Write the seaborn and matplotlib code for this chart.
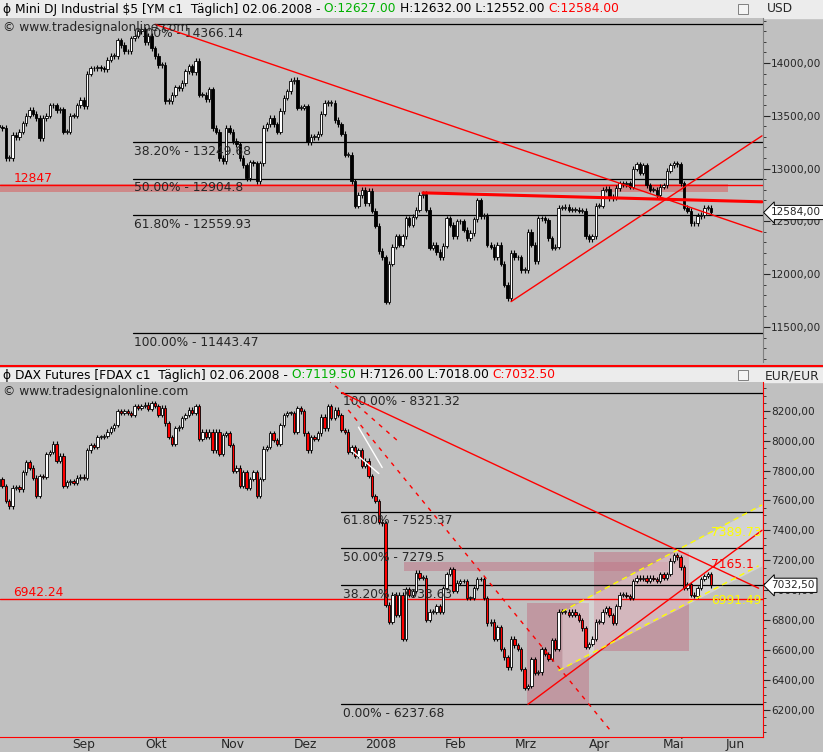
import numpy as np
import pandas as pd
import matplotlib
matplotlib.use("Agg")
import matplotlib.pyplot as plt
from matplotlib.patches import Rectangle
from matplotlib.ticker import MultipleLocator, FuncFormatter, FixedLocator
import seaborn as sns

sns.set_style("white")
plt.rcParams["font.family"] = ["DejaVu Sans"]

BG = "#c0c0c0"

# ---------------- data (closes) ----------------
ym_close = [
    13500, 13410, 13390, 13384, 13100, 13100, 13318, 13300, 13350, 13430,
    13500, 13555, 13520, 13480, 13290, 13480, 13500, 13600, 13600, 13550,
    13560, 13350, 13350, 13500, 13500, 13600, 13650, 13590, 13900, 13950,
    13950, 13960, 13950, 13940, 14030, 14065, 14065, 14215, 14170, 14110,
    14110, 14235, 14260, 14300, 14320, 14200, 14260, 14140, 14065, 13980,
    13980, 13640, 13640, 13700, 13770, 13760, 13810, 13920, 13970, 13910,
    14020, 13700, 13700, 13660, 13750, 13385, 13350, 13100, 13070, 13385,
    13350, 13260, 13230, 13100, 13030, 12910, 13060, 13050, 12880, 13050,
    13385, 13420, 13480, 13420, 13350, 13545, 13670, 13730, 13830, 13840,
    13575, 13575, 13590, 13250, 13300, 13300, 13330, 13520, 13620, 13620,
    13620, 13460, 13420, 13330, 13130, 13130, 12880, 12650, 12750, 12800,
    12670, 12790, 12600, 12460, 12220, 12160, 11740, 12100, 12260, 12360,
    12280, 12360, 12530, 12470, 12545, 12610, 12750, 12760, 12610, 12250,
    12280, 12210, 12160, 12270, 12530, 12470, 12360, 12500, 12500, 12420,
    12340, 12390, 12520, 12700, 12550, 12550, 12280, 12260, 12160, 12280,
    12100, 11900, 11770, 12200, 12160, 12160, 12040, 12040, 12400, 12280,
    12120, 12530, 12530, 12510, 12340, 12250, 12260, 12630, 12630, 12640,
    12610, 12610, 12610, 12600, 12600, 12360, 12330, 12360, 12650, 12650,
    12800, 12810, 12720, 12730, 12815, 12860, 12850, 12860, 12830, 13000,
    13040, 12960, 13030, 12840, 12800, 12800, 12750, 12830, 12840, 12980,
    13030, 13050, 13040, 12860, 12630, 12600, 12480, 12480, 12550, 12560,
    12630, 12630, 12584,
]

dax_close = [
    7855, 7697, 7742, 7697, 7595, 7560, 7685, 7690, 7674, 7787,
    7855, 7820, 7753, 7628, 7765, 7760, 7912, 7923, 7980, 7866,
    7900, 7697, 7720, 7730, 7715, 7753, 7760, 7750, 7935, 7969,
    7960, 8025, 8025, 8030, 8060, 8082, 8105, 8195, 8185, 8195,
    8185, 8173, 8230, 8220, 8230, 8240, 8210, 8252, 8230, 8173,
    8220, 8116, 8025, 7980, 8082, 8090, 8150, 8173, 8207, 8185,
    8230, 8014, 8060, 8025, 8060, 7935, 8060, 7912, 8037, 8048,
    7969, 7800, 7820, 7697, 7787, 7685, 7742, 7787, 7628, 7742,
    7946, 7957, 8048, 8003, 7980, 8105, 8173, 8185, 8185, 8060,
    8218, 8195, 8048, 7935, 8025, 8014, 8048, 8160, 8082, 8230,
    8150, 8207, 8173, 8070, 8060, 7923, 7957, 7900, 7935, 7833,
    7867, 7765, 7628, 7595, 7458, 7447, 6903, 6790, 6970, 6835,
    6970, 6676, 7005, 6970, 6993, 7118, 7084, 7084, 6800, 6857,
    6857, 6891, 6857, 7016, 7107, 7141, 6993, 7050, 7060, 7060,
    6948, 6948, 7016, 7073, 7073, 6948, 6778, 6790, 6676, 6755,
    6608, 6551, 6483, 6676, 6630, 6608, 6472, 6347, 6360, 6540,
    6449, 6450, 6608, 6574, 6540, 6665, 6608, 6857, 6857, 6857,
    6835, 6857, 6835, 6800, 6744, 6619, 6640, 6676, 6790, 6790,
    6857, 6880, 6835, 6780, 6891, 6970, 6970, 6960, 6948, 7061,
    7084, 7073, 7084, 7061, 7084, 7073, 7061, 7107, 7084, 7107,
    7198, 7232, 7220, 7152, 7016, 7040, 6970, 6960, 7016, 7073,
    7095, 7107, 7032.5,
]

ym_fib_levels = [14366.14, 13249.68, 12904.8, 12559.93, 11443.47]
ym_fib_labels = ["0.00% - 14366.14", "38.20% - 13249.68", "50.00% - 12904.8",
                 "61.80% - 12559.93", "100.00% - 11443.47"]
dax_fib_levels = [8321.32, 7525.37, 7279.5, 7033.63, 6237.68]
dax_fib_labels = ["100.00% - 8321.32", "61.80% - 7525.37", "50.00% - 7279.5",
                  "38.20% - 7033.63", "0.00% - 6237.68"]

# line anchors: bars back from the last candle, price
ym_down_back, ym_down_px = [164, -15], [14366, 12400]
ym_up_back, ym_up_px = [59, -15], [11740, 13310]
ym_res_back, ym_res_px = [85, -15], [12770, 12685]
dax_down_back, dax_down_px = [109, -14], [8321, 7013]
dax_dash_back, dax_dash_px = [107, 30], [8205, 6070]
dax_dash2_back, dax_dash2_px = [113, 92], [8409, 7990]
dax_up_back, dax_up_px = [54, -15], [6237, 7400]
dax_chan_hi_back, dax_chan_hi_px = [44, -15], [6857, 7570]
dax_chan_lo_back, dax_chan_lo_px = [45, -14], [6462, 7163]
dax_white1_back, dax_white1_px = [106, 98], [7935, 7780]
dax_white2_back, dax_white2_px = [104, 97], [8090, 7820]

months = ["Sep", "Okt", "Nov", "Dez", "2008", "Feb", "Mrz", "Apr", "Mai", "Jun"]


def ohlc(closes, pad):
    c = np.array(closes, dtype=float)
    o = np.concatenate([[c[0]], c[:-1]])
    hi = np.maximum(o, c) + pad
    lo = np.minimum(o, c) - pad
    return o, hi, lo, c


def draw_candles(ax, closes, pad, down_color, min_h):
    o, hi, lo, c = ohlc(closes, pad)
    n = len(c)
    x = np.arange(n) - (n - 1)
    ax.vlines(x, lo, hi, color="black", lw=0.8, zorder=3)
    up = c >= o
    body = np.maximum(np.abs(c - o), min_h)
    bottom = np.minimum(o, c)
    ax.bar(x[up], body[up], bottom=bottom[up], width=0.7, color="white",
           edgecolor="black", lw=0.6, zorder=4)
    ax.bar(x[~up], body[~up], bottom=bottom[~up], width=0.7, color=down_color,
           edgecolor="black", lw=0.6, zorder=4)


def seg(ax, back, px, **kw):
    ax.plot([-b for b in back], px, **kw)


FS = 8.8
TFS = 7.6
fig = plt.figure(figsize=(8.23, 7.52), dpi=100, facecolor=BG)

# header bars (behind the axes)
for y0, h in [(0, 18), (368, 14)]:
    fig.add_artist(Rectangle((0, 1 - (y0 + h) / 752), 1, h / 752, transform=fig.transFigure,
                             color="#ececec", zorder=-5))

ax1 = fig.add_axes([0, 1 - 362 / 752, 763 / 823, 344 / 752], facecolor=BG)
ax2 = fig.add_axes([0, 1 - 737 / 752, 763 / 823, 355 / 752], facecolor=BG)

XL = (-209.7, 15.3)
for ax in (ax1, ax2):
    ax.set_xlim(*XL)
    ax.yaxis.tick_right()
    for s in ["top", "left"]:
        ax.spines[s].set_visible(False)
    ax.tick_params(axis="y", direction="out", length=5, labelsize=TFS, pad=1)
    ax.tick_params(axis="y", which="minor", length=2.5)

fmt = FuncFormatter(lambda v, p: f"{v:.2f}".replace(".", ","))

# ---------------- top panel ----------------
ax1.set_ylim(11168, 14426)
ax1.yaxis.set_major_locator(MultipleLocator(500))
ax1.yaxis.set_minor_locator(MultipleLocator(100))
ax1.yaxis.set_major_formatter(fmt)
ax1.spines["right"].set_color("#808080")
ax1.spines["bottom"].set_visible(False)
ax1.set_xticks([])

ax1.add_patch(Rectangle((XL[0], 12780), 5 - XL[0], 70, color="#d08080", alpha=0.85, lw=0, zorder=1))
ax1.axhline(12847, color="red", lw=1, zorder=2)
ax1.text(-205.7, 12870, "12847", color="red", fontsize=FS)
for i, (lv, lb) in enumerate(zip(ym_fib_levels, ym_fib_labels)):
    x0 = -164 if i == 0 else -170.5
    ax1.plot([x0, XL[1]], [lv, lv], color="black", lw=0.9, zorder=2)
    ax1.text(-170.3, lv - 25, lb, fontsize=FS, va="top", zorder=5)
draw_candles(ax1, ym_close, 25, "black", 6)
seg(ax1, ym_down_back, ym_down_px, color="red", lw=1, zorder=5)
seg(ax1, ym_up_back, ym_up_px, color="red", lw=1, zorder=5)
seg(ax1, ym_res_back, ym_res_px, color="red", lw=2.2, zorder=5)

# ---------------- bottom panel ----------------
ax2.set_ylim(6018, 8392)
ax2.yaxis.set_major_locator(MultipleLocator(200))
ax2.yaxis.set_minor_locator(MultipleLocator(50))
ax2.yaxis.set_major_formatter(fmt)
ax2.spines["right"].set_color("red")
ax2.spines["bottom"].set_color("red")

ax2.add_patch(Rectangle((-54.3, 6237), 18.3, 677, color="#c07888", alpha=0.55, lw=0, zorder=1))
ax2.add_patch(Rectangle((-34.5, 6592), 28, 662, color="#c07888", alpha=0.55, lw=0, zorder=1))
ax2.add_patch(Rectangle((-90.6, 7125), 78, 61, color="#c07888", alpha=0.55, lw=0, zorder=1))
xs = np.array([-44.0, 15.0])
hi_line = np.interp(xs, [-b for b in dax_chan_hi_back], dax_chan_hi_px)
lo_line = np.interp(xs, [-b for b in dax_chan_lo_back], dax_chan_lo_px)
ax2.fill_between(xs, lo_line, hi_line, color="white", alpha=0.3, lw=0, zorder=1)

ax2.axhline(6942.24, color="red", lw=1, zorder=2)
ax2.text(-205.7, 6960, "6942.24", color="red", fontsize=FS)
for lv, lb in zip(dax_fib_levels, dax_fib_labels):
    ax2.plot([-109, XL[1]], [lv, lv], color="black", lw=0.9, zorder=2)
    ax2.text(-108.7, lv - 18, lb, fontsize=FS, va="top", zorder=5)
draw_candles(ax2, dax_close, 15, "#ff0000", 4)
seg(ax2, dax_down_back, dax_down_px, color="red", lw=1, zorder=5)
seg(ax2, dax_up_back, dax_up_px, color="red", lw=1, zorder=5)
seg(ax2, dax_dash_back, dax_dash_px, color="red", lw=1, ls=(0, (3, 4)), zorder=5)
seg(ax2, dax_dash2_back, dax_dash2_px, color="red", lw=1, ls=(0, (3, 4)), zorder=5)
seg(ax2, dax_chan_hi_back, dax_chan_hi_px, color="yellow", lw=1, ls=(0, (4, 3)), zorder=5)
seg(ax2, dax_chan_lo_back, dax_chan_lo_px, color="yellow", lw=1, ls=(0, (4, 3)), zorder=5)
seg(ax2, dax_white1_back, dax_white1_px, color="white", lw=1, zorder=5)
seg(ax2, dax_white2_back, dax_white2_px, color="white", lw=1, zorder=5)
ax2.text(0, 7365, "7389.73", color="yellow", fontsize=FS, zorder=6)
ax2.text(0, 7145, "7165.1", color="red", fontsize=FS, zorder=6)
ax2.text(0, 6910, "6991.49", color="yellow", fontsize=FS, zorder=6)

# x axis months
n = len(dax_close)
dates = pd.bdate_range(end="2008-06-02", periods=n)
idx = np.arange(n) - (n - 1)
mstart = [idx[i] for i in range(1, n) if dates[i].month != dates[i - 1].month]
mid = [(a + b) / 2 for a, b in zip(mstart[:-1], mstart[1:])] + [mstart[-1] + 7]
ax2.xaxis.set_major_locator(FixedLocator(mstart))
ax2.set_xticklabels([])
ax2.set_xticks(mid, minor=True)
ax2.set_xticklabels(months[-len(mid):], minor=True)
ax2.tick_params(axis="x", which="major", length=4, color="black")
ax2.tick_params(axis="x", which="minor", length=0, labelsize=FS, pad=1)

# price tags
for ax, val, txt in [(ax1, 12584, "12584,00"), (ax2, 7032.5, "7032,50")]:
    ax.annotate(txt, xy=(1.0, val), xycoords=("axes fraction", "data"),
                xytext=(6, 0), textcoords="offset points", va="center", fontsize=TFS,
                bbox=dict(boxstyle="larrow,pad=0.2", fc="white", ec="black", lw=0.7),
                zorder=10, annotation_clip=False)

# headers, multi-coloured, laid out with the renderer
fig.canvas.draw()
renderer = fig.canvas.get_renderer()


def header(y_px, parts):
    x = 3 / 823
    for t, c in parts:
        tx = fig.text(x, 1 - y_px / 752, t, color=c, fontsize=FS, va="center")
        bb = tx.get_window_extent(renderer)
        x += bb.width / fig.bbox.width


header(9, [("ϕ Mini DJ Industrial $5 [YM c1  Täglich] 02.06.2008 - ", "black"),
           ("O:12627.00 ", "#00b000"), ("H:12632.00 L:12552.00 ", "black"),
           ("C:12584.00", "red")])
header(375, [("ϕ DAX Futures [FDAX c1  Täglich] 02.06.2008 - ", "black"),
             ("O:7119.50 ", "#00b000"), ("H:7126.00 L:7018.00 ", "black"),
             ("C:7032.50", "red")])
fig.add_artist(plt.Line2D([0, 1], [1 - 366 / 752] * 2, color="red", lw=1.5))
fig.text(3 / 823, 1 - 27 / 752, "© www.tradesignalonline.com", fontsize=FS, va="center")
fig.text(3 / 823, 1 - 392 / 752, "© www.tradesignalonline.com", fontsize=FS, va="center")
fig.text(767 / 823, 1 - 9 / 752, "USD", fontsize=FS, va="center")
fig.text(765 / 823, 1 - 376 / 752, "EUR/EUR", fontsize=FS, va="center")
for yy in (9, 375):
    fig.add_artist(Rectangle((738 / 823, 1 - (yy + 5) / 752), 10 / 823, 10 / 752,
                             transform=fig.transFigure, fc="#f4f4f4", ec="#808080", lw=0.7))

fig.savefig("out.png", dpi=100, facecolor=BG)
